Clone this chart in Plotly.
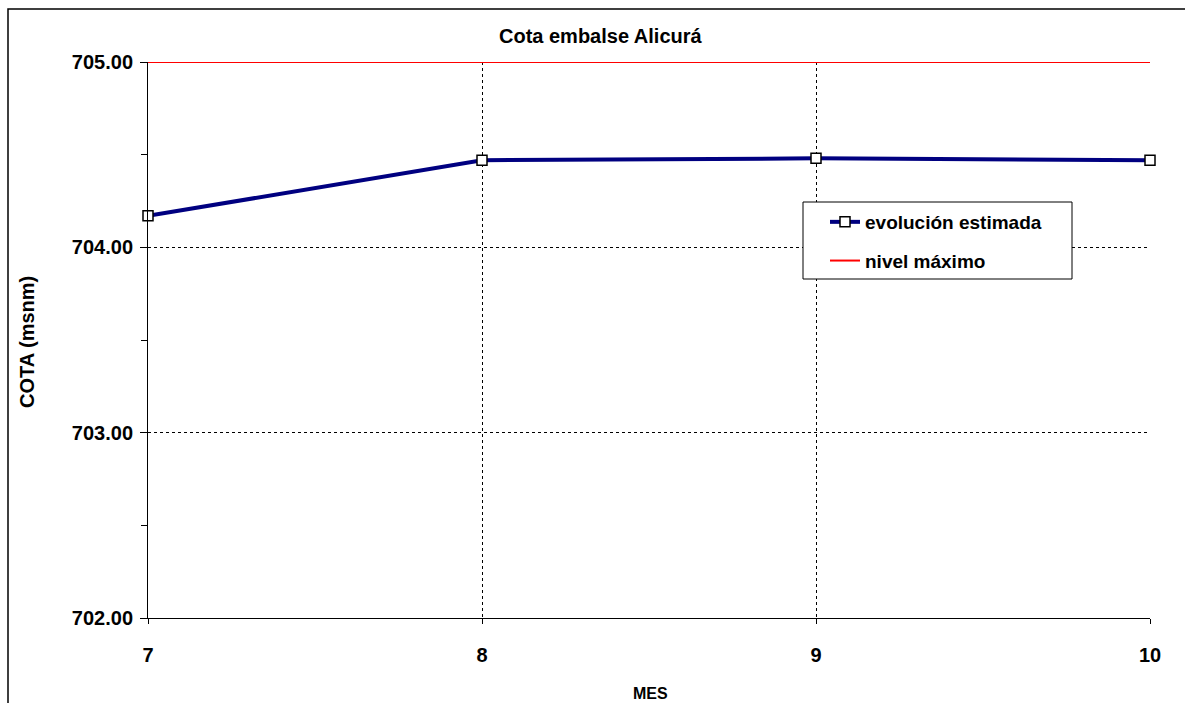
import plotly.graph_objects as go

meses = [7, 8, 9, 10]
cota_estimada = [704.17, 704.47, 704.48, 704.47]
nivel_maximo = [705.00, 705.00, 705.00, 705.00]
y_ticks = [702.0, 703.0, 704.0, 705.0]
x_ticks = [7, 8, 9, 10]

FONT = "Liberation Sans, Arial, sans-serif"
W, H = 1185, 703
L, R, T, B = 148, 1150, 62, 618
pw, ph = R - L, B - T

def px(x):
    return (x - L) / pw

def py(y):
    return (B - y) / ph

fig = go.Figure()
fig.add_trace(go.Scatter(
    x=meses, y=cota_estimada, name="evolución estimada", mode="lines+markers",
    line=dict(color="#000080", width=4),
    marker=dict(symbol="square", size=10, color="white", line=dict(color="black", width=1.5)),
    legendgroup="a", cliponaxis=False,
))
fig.add_trace(go.Scatter(
    x=meses, y=nivel_maximo, name="nivel máximo", mode="lines",
    line=dict(color="#ff0000", width=2),
    legendgroup="b", cliponaxis=False,
))

fig.update_layout(
    width=W, height=H,
    margin=dict(l=L, r=W - R, t=T, b=H - B, pad=0),
    paper_bgcolor="white", plot_bgcolor="white",
    showlegend=True,
    legend=dict(
        x=px(825), y=py(203), xanchor="left", yanchor="top",
        font=dict(family=FONT, size=19, color="black", weight="bold"),
        bgcolor="rgba(0,0,0,0)", borderwidth=0, tracegroupgap=11,
    ),
    xaxis=dict(
        range=[7, 10], tickvals=x_ticks, ticktext=[str(v) for v in x_ticks],
        showline=True, linecolor="black", linewidth=1,
        ticks="outside", ticklen=5, tickcolor="black",
        tickfont=dict(family=FONT, size=20, color="black", weight="bold"),
        ticklabelstandoff=14,
        showgrid=True, gridcolor="black", gridwidth=1, griddash="3px,3px",
        zeroline=False,
    ),
    yaxis=dict(
        range=[702, 705], tickvals=y_ticks, ticktext=[f"{v:.2f}" for v in y_ticks],
        showline=True, linecolor="black", linewidth=1,
        ticks="outside", ticklen=7, tickcolor="black",
        minor=dict(dtick=0.5, ticks="outside", ticklen=6, tickcolor="black", showgrid=False),
        tickfont=dict(family=FONT, size=20, color="black", weight="bold"),
        ticklabelstandoff=3,
        showgrid=True, gridcolor="black", gridwidth=1, griddash="3px,3px",
        zeroline=False,
    ),
    shapes=[
        dict(type="rect", xref="paper", yref="paper",
             x0=px(8), x1=px(1200), y0=py(720), y1=py(9),
             line=dict(color="black", width=1.5), fillcolor="rgba(0,0,0,0)", layer="below"),
        dict(type="rect", xref="paper", yref="paper",
             x0=px(803), x1=px(1072), y0=py(279), y1=py(202),
             line=dict(color="black", width=1), fillcolor="white", layer="above"),
    ],
    annotations=[
        dict(text="Cota embalse Alicurá", xref="paper", yref="paper",
             x=px(601), y=py(36), xanchor="center", yanchor="middle", showarrow=False,
             font=dict(family=FONT, size=20, color="black", weight="bold")),
        dict(text="MES", xref="paper", yref="paper",
             x=px(650), y=py(693), xanchor="center", yanchor="middle", showarrow=False,
             font=dict(family=FONT, size=16, color="black", weight="bold")),
        dict(text="COTA (msnm)", xref="paper", yref="paper", textangle=-90,
             x=px(27), y=py(342), xanchor="center", yanchor="middle", showarrow=False,
             font=dict(family=FONT, size=20, color="black", weight="bold")),
    ],
)

fig.write_html(
    "out.html",
    config={"displayModeBar": False},
    post_script="document.body.style.margin='0px';document.body.style.overflow='hidden';",
)
